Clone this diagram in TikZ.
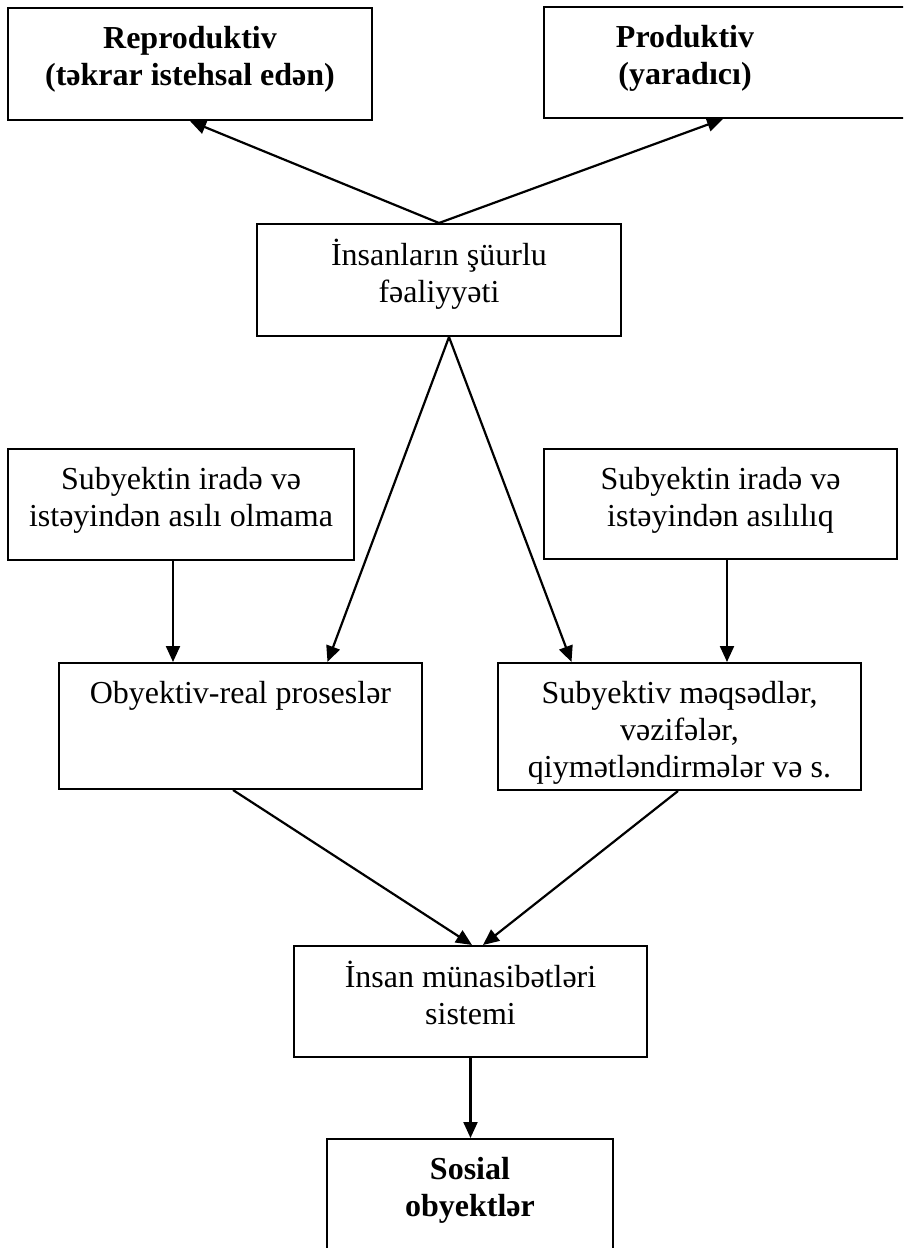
\documentclass[tikz,border=0pt]{standalone}
\usepackage{fontspec}
\setmainfont{Liberation Serif}
\usetikzlibrary{arrows.meta, positioning}

\newcommand{\qutu}[3]{\parbox[c][#2pt][t]{#1pt}{\centering\vspace*{15pt}\strut #3}}

\begin{document}
\begin{tikzpicture}[x=1pt, y=-1pt, >={Triangle[length=16pt,width=14pt]},
  blok/.style={draw, line width=2pt, inner sep=0pt, font=\fontsize{32}{37}\selectfont},
  ox/.style={->, line width=2.2pt}]
  \useasboundingbox (0,0) rectangle (903,1248);
  \clip (0,0) rectangle (903,1248);
  % top row: two kinds of activity
  \node[blok] (repro) at (190,64) {\qutu{364}{112}{\textbf{Reproduktiv}\\ \textbf{(təkrar istehsal edən)}}};
  \node[blok] (prod) at (727,62.5) {\qutu{366}{111}{\rightskip=84pt plus 1fil \textbf{Produktiv}\\ \textbf{(yaradıcı)}}};
  \node[blok] (insan) at (439,280) {\qutu{364}{112}{İnsanların şüurlu\\ fəaliyyəti}};
  % middle rows
  \node[blok] (asiliolm) at (181,504.5) {\qutu{346}{111}{Subyektin iradə və\\ istəyindən asılı olmama}};
  \node[blok] (asililiq) at (720.5,504) {\qutu{353}{110}{Subyektin iradə və\\ istəyindən asılılıq}};
  \node[blok] (obyektiv) at (240.5,726) {\qutu{363}{126}{Obyektiv-real proseslər}};
  \node[blok] (subyektiv) at (679.5,726.5) {\qutu{363}{127}{Subyektiv məqsədlər,\\ vəzifələr,\\ qiymətləndirmələr və s.}};
  % bottom
  \node[blok] (munasibet) at (470.5,1001.5) {\qutu{353}{111}{İnsan münasibətləri\\ sistemi}};
  \node[blok] (sosial) at (470,1199.5) {\qutu{286}{121}{\textbf{Sosial}\\ \textbf{obyektlər}}};
  % arrows
  \draw[ox] (insan.north) -- (repro.south);
  \draw[ox] (insan.north) -- ([xshift=-4pt]prod.south);
  \draw[ox] ([xshift=10pt]insan.south) -- ([xshift=87pt]obyektiv.north);
  \draw[ox] ([xshift=10pt]insan.south) -- ([xshift=-108pt]subyektiv.north);
  \draw[ox] ([xshift=-8pt]asiliolm.south) -- ([xshift=-67.5pt]obyektiv.north);
  \draw[ox] ([xshift=6.5pt]asililiq.south) -- ([xshift=47.5pt]subyektiv.north);
  \draw[ox] ([xshift=-7.5pt]obyektiv.south) -- ([xshift=1.5pt]munasibet.north);
  \draw[ox] ([xshift=-1.5pt]subyektiv.south) -- ([xshift=12.5pt]munasibet.north);
  \draw[ox] (munasibet.south) -- (munasibet.south |- sosial.north);
\end{tikzpicture}
\end{document}
